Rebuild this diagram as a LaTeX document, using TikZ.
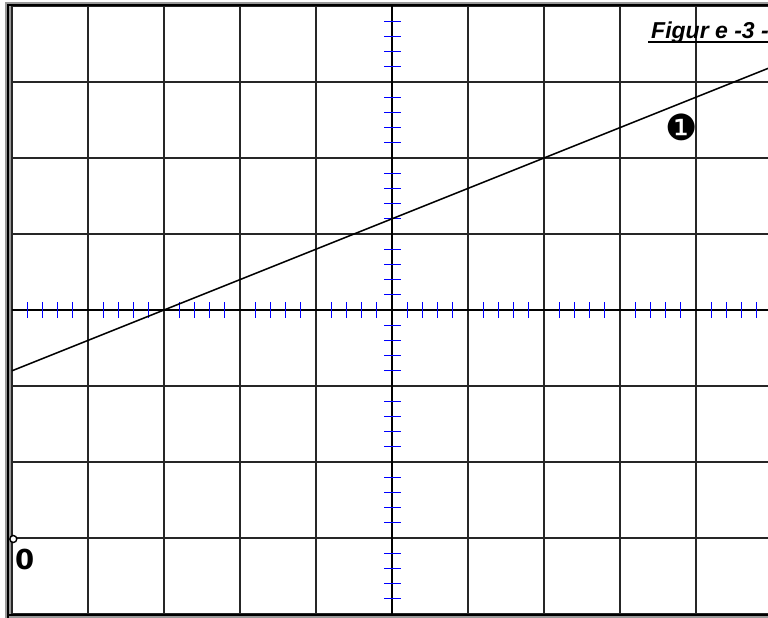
\documentclass[tikz,border=0pt]{standalone}
\usepackage{fontspec}
\newfontfamily\titlefont{Liberation Sans}
\newfontfamily\dejavu{DejaVu Sans}
\begin{document}
\begin{tikzpicture}[x=1pt,y=-1pt,
  gridline/.style={black!85,line width=1.2pt},
  axisline/.style={black,line width=2.7pt},
  tickmark/.style={blue,line width=1.2pt},
  graphline/.style={black,line width=1.5pt},
  framegray/.style={black!40,line width=2pt},
  frameblack/.style={black,line width=2pt}]
\useasboundingbox (0,0) rectangle (768,618);
\fill[white] (0,0) rectangle (768,618);
\begin{scope}
  \clip (11,6) rectangle (768,614);
  \foreach \i in {-5,...,5} \draw[gridline] ({392+76*\i},6) -- ({392+76*\i},614);
  \foreach \j in {-4,...,4} \draw[gridline] (12,{310+76*\j}) -- (780,{310+76*\j});
  \draw[axisline] (12,310) -- (780,310);
  \draw[axisline] (392,6) -- (392,614);
  \foreach \i in {-5,...,4} \foreach \k in {1,...,4}
    \draw[tickmark] ({392+76*\i+15.2*\k},302) -- ++(0,16);
  \foreach \j in {-4,...,3} \foreach \k in {1,...,4}
    \draw[tickmark] (384,{310+76*\j+15.2*\k}) -- ++(17,0);
  \coordinate (p1) at (12,370.8);
  \coordinate (p2) at (772,66.8);
  \draw[graphline] (p1) -- (p2);
\end{scope}
% window frame
\draw[framegray] (6,800) -- (6,3) -- (800,3);
\draw[framegray] (6,617) -- (800,617);
\draw[frameblack] (8,800) -- (8,5.5) -- (800,5.5);
\draw[frameblack] (8,615) -- (800,615);
\fill[black!40] (9,6.5) rectangle (11.3,614);
% labels
\node[anchor=base west,inner sep=0pt,font=\titlefont\bfseries\itshape\fontsize{23}{23}\selectfont] (title) at (651,39) {Figur e -3 -};
\draw[line width=2pt] (648,42) -- (770,42);
\node[inner sep=0pt,font=\dejavu\fontsize{36}{36}\selectfont] (one) at (681.5,127) {❶};
\node[anchor=base west,inner sep=0pt,font=\dejavu\bfseries\fontsize{27.5}{27.5}\selectfont] (zero) at (15,569) {0};
\node[draw,circle,fill=white,inner sep=0pt,minimum size=7pt,line width=1.4pt] (origin) at (13.3,539) {};
\end{tikzpicture}
\end{document}
